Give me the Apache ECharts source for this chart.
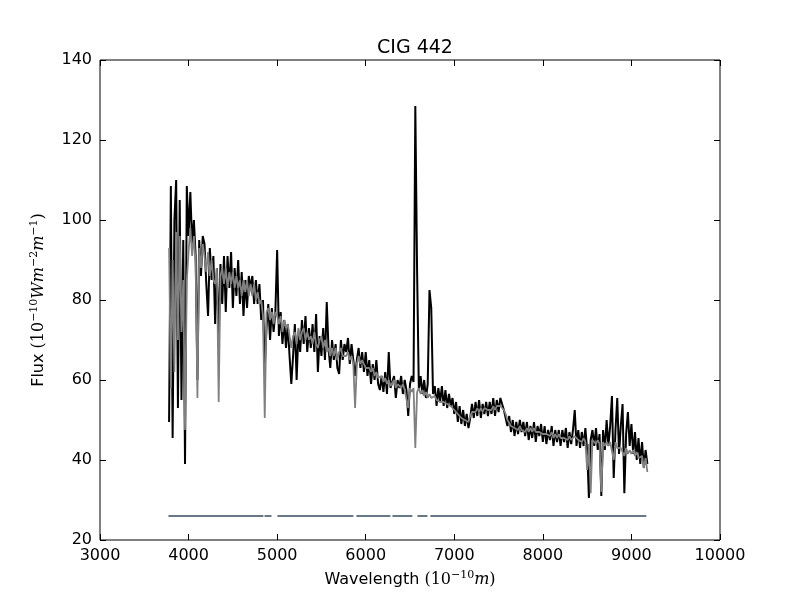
<!DOCTYPE html>
<html>
<head>
<meta charset="utf-8">
<title>CIG 442</title>
<script src="https://cdn.jsdelivr.net/npm/echarts@6.0.0/dist/echarts.min.js"></script>
<style>
  html, body { margin: 0; padding: 0; background: #fff; }
  #spectrum { width: 800px; height: 600px; }
</style>
</head>
<body>
<div id="spectrum"></div>
<script>
// wavelength grid of the spectrum (Angstrom)
const wavelengthStart = 3780
const wavelengthStep = 20

// observed flux (black), one value per grid step
const observedFlux = [
  49.5, 108.5, 45.5, 100, 110, 53, 105, 55, 95, 39,
  108.5, 96, 107, 94, 100, 91, 60, 95, 86, 96,
  94, 84, 76, 93, 85, 91, 74, 88, 70, 89,
  79, 91, 77, 91, 83, 92, 78, 88, 81, 90,
  79, 87, 76, 85, 78, 86, 83, 86, 79, 85,
  79, 84, 75, 80, 63, 73, 79, 70, 78, 72,
  77, 92.5, 71, 77, 69, 75, 68, 74, 66, 59,
  66, 74, 60, 72, 67, 75, 69, 76, 67, 73,
  68, 74, 67, 76.5, 62, 71, 66, 73, 65, 79.5,
  68, 63, 70, 65, 69, 63, 61.5, 70, 65, 69,
  67, 70.5, 64, 69, 65, 61, 65, 68, 63, 67,
  62, 67, 61, 65, 59, 64, 60, 65, 59, 57.5,
  61, 57, 62, 56.5, 67, 58, 57.5, 61, 55.5, 60,
  58, 61, 56.5, 60, 57.5, 51, 59, 61, 59.5, 128.5,
  87.5, 57.5, 61, 56.5, 60, 55.5, 59, 82.5, 78, 56.5,
  58.5, 53.5, 58, 54.5, 58.5, 53.5, 57.5, 53, 56.5, 53.5,
  55.5, 51.5, 54.5, 49.5, 53.5, 49, 52.5, 48.5, 51.5, 48,
  50.5, 54, 50.5, 54.5, 51, 55, 50.5, 54, 51.5, 54.5,
  51, 54.5, 51.5, 55.5, 51, 55, 52, 55.5, 55.8, 52.5,
  52, 48.5, 51, 47, 50, 46, 49.5, 46.5, 50, 47,
  49.5, 46, 49.5, 45, 48.5, 45.5, 49.5, 44.5, 48.5, 46,
  49, 44.5, 48.5, 44, 47.5, 45, 48.5, 43.5, 47.5, 44.5,
  47.5, 43.5, 47.5, 44.5, 48, 43, 47, 44, 47.5, 52.5,
  43.5, 47.5, 43, 47, 43.5, 48, 42.5, 30.5, 45, 47.5,
  43.5, 48, 42.5, 46.5, 31, 47.5, 42.5, 50, 43.5, 48.5,
  56, 35.5, 47.5, 55.5, 41.5, 48.5, 54, 31.7, 46.5, 52,
  43.5, 49, 41.5, 47, 40, 45.5, 39, 44.5, 38, 42.5,
  39
]

// model / fitted flux (grey)
const modelFlux = [
  93, 58, 90, 62, 97, 70, 96, 72, 85, 47.5,
  85, 92, 98, 91, 96, 89, 55.5, 93, 88, 94,
  91, 87, 92, 86, 90, 85, 84, 88, 54.5, 86,
  88, 84, 88, 83, 87, 84, 87, 83, 86, 83,
  85, 81, 85, 82, 85, 81, 84, 81, 84, 80,
  82, 79, 80, 76, 50.5, 77, 78, 75, 77, 74,
  77, 76, 74, 76, 72, 75, 73, 74, 71, 68,
  71, 72, 69, 73, 70, 72, 73, 70, 72, 70,
  71, 69, 72, 69, 68, 70, 71, 68, 70, 67,
  68, 66, 68, 66, 68, 65, 67, 68, 66, 66,
  66, 67, 65, 66, 64, 53, 64, 66, 64, 65,
  64, 63, 63.5, 63, 62, 63, 61, 62, 60.5, 61,
  61, 59.5, 60.5, 59, 60, 58.5, 59, 60, 58, 59,
  59, 58, 59, 57.5, 57, 53, 58, 57, 58, 43,
  57, 58, 56.5, 57.5, 56, 57, 55.5, 56.5, 55.5, 56,
  56, 55, 55.5, 54.5, 55, 54.5, 54.5, 54, 54, 53.5,
  53.5, 52.5, 53, 51.5, 52, 50.5, 51, 50, 50.5, 49.5,
  51, 52, 52.5, 52, 53, 52, 53, 52, 53, 52.5,
  52.5, 53, 52.5, 53.5, 52.5, 53.5, 53, 53.5, 53, 52.5,
  51.5, 50, 49.5, 48.5, 49, 48, 48.5, 47.5, 48.5, 47.5,
  48, 47, 48, 47, 48, 47, 48, 47, 47.5, 47,
  47.5, 46.5, 47, 46.5, 47, 46, 47, 45.5, 46.5, 45.5,
  46.5, 45.5, 46, 45.5, 46, 45, 46, 45, 45.5, 46,
  45.5, 45, 45.5, 44.5, 45.5, 44.5, 37.5, 44, 31.7, 45,
  45.5, 44, 45, 44, 32, 44.5, 43.5, 44.5, 43.5, 44.5,
  44, 40, 44.5, 43, 43.5, 43, 42.5, 41, 43, 41.5,
  42.5, 41.5, 42.5, 41, 42, 40.5, 40.5, 41, 38, 40.5,
  37
]

// masked-region bar near the bottom
const maskLevel = 26
const maskStart = [3773, 4857, 5003, 5895, 6302, 6584, 6730]
const maskEnd = [4845, 4936, 5861, 6279, 6527, 6697, 9168]

const toPairs = (values) => values.map((v, i) => [wavelengthStart + i * wavelengthStep, v])

const maskData = []
maskStart.forEach((s, i) => {
  maskData.push([s, maskLevel], [maskEnd[i], maskLevel])
  if (i < maskStart.length - 1) maskData.push([maskEnd[i] + 1, null])
})

const labelFont = 'DejaVu Sans'
const mathRich = {
  n: { fontFamily: 'DejaVu Serif', fontSize: 16, color: '#000' },
  s: { fontFamily: 'DejaVu Serif', fontSize: 11, color: '#000', verticalAlign: 'top', padding: [0, 0, 8, 0] },
  i: { fontFamily: 'DejaVu Serif', fontStyle: 'italic', fontSize: 16, color: '#000' }
}

const plainNumber = (v) => String(v)

const option = {
  animation: false,
  backgroundColor: '#fff',
  title: {
    text: 'CIG 442',
    left: 410,
    textAlign: 'center',
    top: 34,
    textStyle: { fontFamily: labelFont, fontSize: 19, fontWeight: 'normal', color: '#000' }
  },
  grid: {
    left: 100, right: 80, top: 60, bottom: 60,
    show: true, borderColor: '#000', borderWidth: 1, backgroundColor: 'transparent'
  },
  xAxis: [
    {
      type: 'value', min: 3000, max: 10000, interval: 1000,
      name: 'Wavelength {n|(10}{s|−10}{i|m}{n|)}',
      nameLocation: 'middle', nameGap: 30,
      nameTextStyle: { fontFamily: labelFont, fontSize: 16, color: '#000', rich: mathRich },
      axisLine: { show: false },
      axisTick: { inside: true, length: 6, lineStyle: { color: '#000' } },
      axisLabel: { fontFamily: labelFont, fontSize: 16, color: '#000', margin: 8, formatter: plainNumber },
      splitLine: { show: false }
    },
    {
      type: 'value', min: 3000, max: 10000, interval: 1000, position: 'top',
      axisLine: { show: false },
      axisTick: { inside: true, length: 6, lineStyle: { color: '#000' } },
      axisLabel: { show: false },
      splitLine: { show: false }
    }
  ],
  yAxis: [
    {
      type: 'value', min: 20, max: 140, interval: 20,
      name: 'Flux {n|(10}{s|−10}{i|Wm}{s|−2}{i|m}{s|−1}{n|)}',
      nameLocation: 'middle', nameGap: 52, nameRotate: 90,
      nameTextStyle: { fontFamily: labelFont, fontSize: 16, color: '#000', rich: mathRich },
      axisLine: { show: false },
      axisTick: { inside: true, length: 6, lineStyle: { color: '#000' } },
      axisLabel: { fontFamily: labelFont, fontSize: 16, color: '#000', margin: 8, formatter: plainNumber },
      splitLine: { show: false }
    },
    {
      type: 'value', min: 20, max: 140, interval: 20, position: 'right',
      axisLine: { show: false },
      axisTick: { inside: true, length: 6, lineStyle: { color: '#000' } },
      axisLabel: { show: false },
      splitLine: { show: false }
    }
  ],
  series: [
    {
      name: 'observed', type: 'line', showSymbol: false, symbol: 'none',
      data: toPairs(observedFlux),
      lineStyle: { color: '#000', width: 2 }, z: 2
    },
    {
      name: 'model', type: 'line', showSymbol: false, symbol: 'none',
      data: toPairs(modelFlux),
      lineStyle: { color: '#808080', width: 1.8 }, z: 3
    },
    {
      name: 'mask', type: 'line', showSymbol: false, symbol: 'none',
      connectNulls: false,
      data: maskData,
      lineStyle: { color: '#687884', width: 2 }, z: 4
    }
  ]
}

const chart = echarts.init(document.getElementById('spectrum'), null, { renderer: 'canvas' })
chart.setOption(option)
</script>
</body>
</html>
